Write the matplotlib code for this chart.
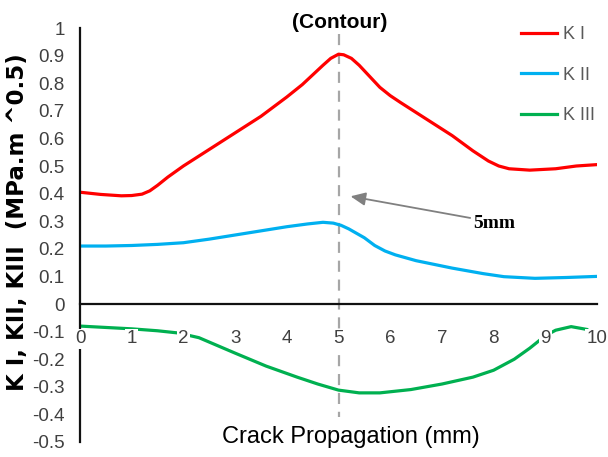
import matplotlib
matplotlib.use("Agg")
import matplotlib.pyplot as plt

# valeurs
x_k1 = [0, 0.4, 0.8, 1.0, 1.2, 1.35, 1.5, 1.7, 2.0, 2.5, 3.0, 3.5, 4.0, 4.3, 4.5, 4.7,
        4.85, 5.0, 5.1, 5.25, 5.4, 5.6, 5.8, 6.0, 6.2, 6.7, 7.2, 7.6, 7.9, 8.1, 8.3,
        8.7, 9.2, 9.6, 10]
k1 = [0.405, 0.397, 0.392, 0.393, 0.398, 0.41, 0.43, 0.46, 0.50, 0.56, 0.62, 0.68, 0.75,
      0.795, 0.83, 0.865, 0.89, 0.905, 0.903, 0.89, 0.865, 0.825, 0.785, 0.755, 0.73,
      0.67, 0.61, 0.555, 0.518, 0.50, 0.49, 0.485, 0.49, 0.50, 0.505]

x_k2 = [0, 0.5, 1, 1.5, 2, 2.5, 3, 3.5, 4, 4.4, 4.7, 4.9, 5.05, 5.2, 5.35, 5.5, 5.7,
        5.9, 6.1, 6.5, 7.2, 7.8, 8.2, 8.8, 9.4, 10]
k2 = [0.21, 0.21, 0.212, 0.216, 0.222, 0.235, 0.25, 0.265, 0.28, 0.29, 0.296, 0.293,
      0.285, 0.272, 0.256, 0.24, 0.212, 0.192, 0.178, 0.157, 0.13, 0.11, 0.099, 0.093,
      0.096, 0.10]

x_k3 = [0, 0.5, 1.0, 1.5, 1.9, 2.3, 3.0, 3.6, 4.2, 4.6, 5.0, 5.4, 5.8, 6.4, 7.0, 7.6,
        8.0, 8.4, 8.7, 9.0, 9.2, 9.5, 9.8]
k3 = [-0.08, -0.085, -0.09, -0.097, -0.105, -0.122, -0.178, -0.225, -0.265, -0.29,
      -0.312, -0.322, -0.322, -0.31, -0.29, -0.265, -0.24, -0.2, -0.16, -0.115, -0.095,
      -0.082, -0.092]

x_ticks = list(range(0, 11))
y_ticks = [round(-0.5 + 0.1 * i, 1) for i in range(16)]
y_labels = ["%g" % v for v in y_ticks]

sans = ["Liberation Sans", "DejaVu Sans"]
gris = "#404040"

fig = plt.figure(figsize=(6.08, 4.57), dpi=100)
ax = fig.add_axes([80 / 608, 1 - 442 / 457, 517 / 608, 414 / 457])

ax.plot(x_k1, k1, color="#FF0000", lw=2.3, label="K I")
ax.plot(x_k2, k2, color="#00B0F0", lw=2.3, label="K II")
ax.plot(x_k3, k3, color="#00B050", lw=2.3, label="K III")

# ligne pointillee a 5 mm
ax.plot([5, 5], [0.98, -0.41], color="#A6A6A6", lw=1.6, ls=(0, (5, 3.5)), zorder=1)

ax.set_xlim(0, 10)
ax.set_ylim(-0.5, 1)
ax.spines["top"].set_visible(False)
ax.spines["right"].set_visible(False)
ax.spines["bottom"].set_position(("data", 0))
ax.spines["bottom"].set_linewidth(1.6)
ax.spines["left"].set_linewidth(1.6)
ax.spines["bottom"].set_color("#111111")
ax.spines["left"].set_color("#111111")
ax.set_axisbelow(False)

ax.set_xticks(x_ticks)
ax.set_yticks(y_ticks)
ax.set_yticklabels(y_labels)
ax.tick_params(axis="both", length=0, labelsize=13.5, labelcolor=gris)
ax.tick_params(axis="x", pad=19)
ax.tick_params(axis="y", pad=11)
for lbl in ax.get_xticklabels() + ax.get_yticklabels():
    lbl.set_fontfamily(sans)
for lbl in ax.get_xticklabels():
    lbl.set_bbox(dict(facecolor="white", edgecolor="none", pad=1))

leg = ax.legend(loc="upper left", bbox_to_anchor=(505 / 608, 1 - 10 / 457),
                bbox_transform=fig.transFigure, frameon=False, handlelength=2.0,
                handletextpad=0.3, labelspacing=1.3,
                prop={"family": sans, "size": 13})
for t in leg.get_texts():
    t.set_color("#595959")

fig.text(340 / 608, 1 - 23 / 457, "(Contour)", ha="center", va="center",
         fontsize=15, fontweight="bold", family=sans)
fig.text(18 / 608, 1 - 222 / 457, "K I, KII, KIII  (MPa.m ^0.5)", rotation=90,
         ha="center", va="center", fontsize=16.5, fontweight="bold", family="DejaVu Sans")
fig.text(351 / 608, 1 - 437 / 457, "Crack Propagation (mm)", ha="center", va="center",
         fontsize=17, family=sans, color="#000000")

ax.annotate("", xy=(5.18, 0.392), xytext=(7.6, 0.31),
            arrowprops=dict(arrowstyle="-|>,head_length=0.9,head_width=0.4",
                            color="#808080", lw=1.3))
ax.text(7.6, 0.29, "5mm", ha="left", va="center", fontsize=14, fontweight="bold",
        family="Liberation Serif")

fig.savefig("out.png", dpi=100)
